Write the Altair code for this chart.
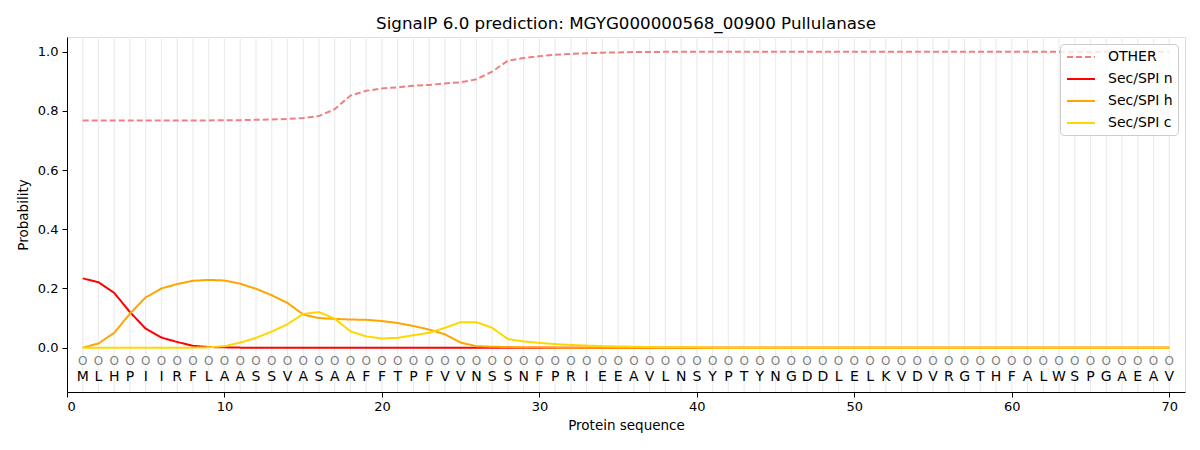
import altair as alt
import pandas as pd

sequence = list("MLHPIIRFLAASSVASAAFFTPFVVNSSNFPRIEEAVLNSYPTYNGDDLELKVDVRGTHFALWSPGAEAV")
positions = list(range(1, 71))

other = [0.768, 0.768, 0.768, 0.768, 0.768, 0.768, 0.768, 0.768, 0.768, 0.769,
         0.769, 0.770, 0.771, 0.773, 0.776, 0.783, 0.806, 0.852, 0.868, 0.876,
         0.880, 0.885, 0.888, 0.893, 0.897, 0.907, 0.933, 0.970, 0.979, 0.985,
         0.990, 0.993, 0.995, 0.997, 0.998, 0.999, 0.999, 1.0, 1.0, 1.0,
         1.0, 1.0, 1.0, 1.0, 1.0, 1.0, 1.0, 1.0, 1.0, 1.0,
         1.0, 1.0, 1.0, 1.0, 1.0, 1.0, 1.0, 1.0, 1.0, 1.0,
         1.0, 1.0, 1.0, 1.0, 1.0, 1.0, 1.0, 1.0, 1.0, 1.0]
sp_n = [0.234, 0.221, 0.185, 0.120, 0.064, 0.034, 0.019, 0.006, 0.002, 0.001] + [0.0] * 60
sp_h = [0.0, 0.014, 0.050, 0.115, 0.170, 0.200, 0.215, 0.226, 0.229, 0.227,
        0.216, 0.199, 0.177, 0.151, 0.112, 0.100, 0.097, 0.095, 0.094, 0.090,
        0.083, 0.073, 0.061, 0.045, 0.017, 0.005, 0.003, 0.002, 0.001, 0.001] + [0.0] * 40
sp_c = [0.0, 0.0, 0.0, 0.0, 0.0, 0.0, 0.0, 0.0, 0.001, 0.005,
        0.017, 0.033, 0.054, 0.079, 0.114, 0.120, 0.098, 0.055, 0.038, 0.031,
        0.033, 0.042, 0.050, 0.067, 0.086, 0.086, 0.067, 0.029, 0.021, 0.016,
        0.012, 0.009, 0.007, 0.005, 0.004, 0.003, 0.002, 0.001, 0.001, 0.001] + [0.0] * 30

series_names = ["OTHER", "Sec/SPI n", "Sec/SPI h", "Sec/SPI c"]
series_colors = ["#f08080", "#ff0000", "#ffa500", "#ffd700"]
series_dash = [[6, 3], [1, 0], [1, 0], [1, 0]]

rows = []
for name, vals in zip(series_names, [other, sp_n, sp_h, sp_c]):
    for p, v in zip(positions, vals):
        rows.append({"pos": p, "prob": v, "series": name})
lines_df = pd.DataFrame(rows)

seq_df = pd.DataFrame({"pos": positions, "aa": sequence,
                       "o": ["O"] * len(positions),
                       "y_o": [-0.046] * len(positions),
                       "y_aa": [-0.098] * len(positions)})

FONT = "DejaVu Sans"
xscale = alt.Scale(domain=[0, 71], nice=False, zero=False)
yscale = alt.Scale(domain=[-0.15, 1.05], nice=False, zero=False)

grid = alt.Chart(seq_df).mark_rule(color="#ececec", strokeWidth=1.2).encode(
    x=alt.X("pos:Q", scale=xscale)
)

lines = alt.Chart(lines_df).mark_line(strokeWidth=2).encode(
    x=alt.X("pos:Q", scale=xscale, title="Protein sequence",
            axis=alt.Axis(values=[0, 10, 20, 30, 40, 50, 60, 70], grid=False,
                          tickSize=5, labelPadding=3, titlePadding=5,
                          labelFontSize=13, titleFontSize=13.5,
                          labelFont=FONT, titleFont=FONT,
                          titleFontWeight="normal", domainColor="black",
                          tickColor="black", labelColor="black", titleColor="black")),
    y=alt.Y("prob:Q", scale=yscale, title="Probability",
            axis=alt.Axis(values=[0, 0.2, 0.4, 0.6, 0.8, 1.0], format=".1f", grid=False,
                          tickSize=5, labelPadding=4, titlePadding=7,
                          labelFontSize=13, titleFontSize=13.5,
                          labelFont=FONT, titleFont=FONT,
                          titleFontWeight="normal", domainColor="black",
                          tickColor="black", labelColor="black", titleColor="black")),
    color=alt.Color("series:N",
                    scale=alt.Scale(domain=series_names, range=series_colors),
                    legend=alt.Legend(title=None, orient="top-right", offset=7,
                                      padding=5, fillColor="rgba(255,255,255,0.8)",
                                      strokeColor="#cccccc", cornerRadius=4,
                                      symbolType="M-2,0L2,0", symbolSize=196,
                                      symbolOffset=8,
                                      symbolStrokeWidth=2, labelFontSize=14,
                                      labelFont=FONT, labelColor="black",
                                      labelOffset=19, rowPadding=7)),
    strokeDash=alt.StrokeDash("series:N",
                              scale=alt.Scale(domain=series_names, range=series_dash),
                              legend=alt.Legend(title=None)),
    order=alt.Order("pos:Q"),
)

o_text = alt.Chart(seq_df).mark_text(font=FONT, fontSize=12, color="#808080",
                                     baseline="middle", align="center").encode(
    x=alt.X("pos:Q", scale=xscale),
    y=alt.Y("y_o:Q", scale=yscale),
    text="o:N",
)

aa_text = alt.Chart(seq_df).mark_text(font=FONT, fontSize=14, color="black",
                                      baseline="middle", align="center").encode(
    x=alt.X("pos:Q", scale=xscale),
    y=alt.Y("y_aa:Q", scale=yscale),
    text="aa:N",
)

chart = alt.layer(grid, lines, o_text, aa_text).properties(
    width=1118, height=355,
    title=alt.TitleParams("SignalP 6.0 prediction: MGYG000000568_00900 Pullulanase",
                          font=FONT, fontSize=16.7, fontWeight="normal", color="black",
                          anchor="middle", frame="group", baseline="alphabetic",
                          offset=9, dy=18),
    autosize=alt.AutoSizeParams(type="none"),
    padding={"left": 59, "top": 29, "right": 7, "bottom": 50},
).configure_view(stroke="black", strokeWidth=1).configure(background="white")

chart.save("out.html", embed_options={"renderer": "svg", "actions": False})
